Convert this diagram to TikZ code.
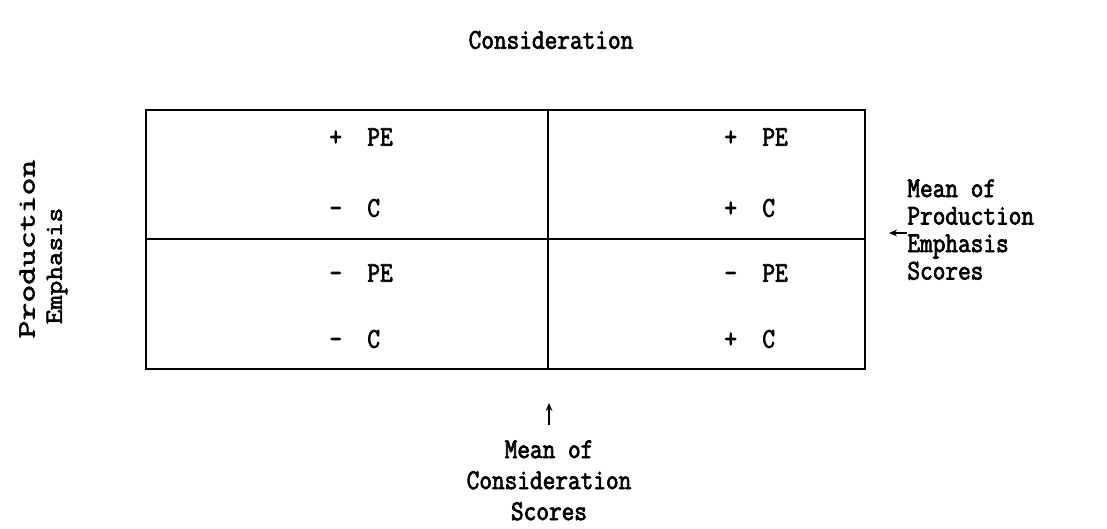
\documentclass[tikz,border=0pt]{standalone}
\usepackage{fontspec}
\setmonofont[FakeStretch=0.86, FakeBold=2.5]{Latin Modern Mono}
\usepackage{tikz}
\usetikzlibrary{positioning,arrows.meta,calc}

\begin{document}
\begin{tikzpicture}[
  x=0.5pt, y=-0.5pt,
  font=\ttfamily\fontsize{14.3}{13.75}\selectfont,
  grid/.style={line width=1.3pt},
  cell/.style={anchor=west, inner sep=0pt},
  lbl/.style={inner sep=0pt, align=left},
  side/.style={inner sep=0pt, rotate=90},
  arr/.style={-{Stealth[length=4pt, width=3.4pt]}, line width=0.8pt}
]
\useasboundingbox (0,0) rectangle (1107,529);
% quadrant frame
\draw[grid] (146,110) rectangle (865,369);
\draw[grid] (146,239) -- (865,239);
\draw[grid] (548,110) -- (548,369);
% quadrant entries
\node[cell] (pe11) at (329,137) {+\ \ PE};
\node[cell] (c11)  at (329,208) {-\ \ C};
\node[cell] (pe12) at (724,137) {+\ \ PE};
\node[cell] (c12)  at (724,208) {+\ \ C};
\node[cell] (pe21) at (329,273) {-\ \ PE};
\node[cell] (c21)  at (329,339) {-\ \ C};
\node[cell] (pe22) at (724,273) {-\ \ PE};
\node[cell] (c22)  at (724,339) {+\ \ C};
% axis titles
\node[lbl] (consid) at (551,40) {Consideration};
\node[side] (prodL) at (27,249)
  {\fontsize{12.3}{14}\addfontfeature{FakeStretch=1.41}Production};
\node[side] (emphL) at (57,266)
  {\fontsize{12.3}{14}\addfontfeature{FakeStretch=1.15}Emphasis};
% means
\node[lbl, anchor=north west] (meanPE) at (907,179) {Mean of\\Production\\Emphasis\\Scores};
\coordinate (peTip) at (889,233);
\draw[arr] (peTip -| meanPE.west) -- (peTip);
\node[lbl, align=center, anchor=north, font=\ttfamily\fontsize{14.3}{15.5}\selectfont]
  (meanC) at (549,440) {Mean of\\Consideration\\Scores};
\coordinate (cTip) at (549,403);
\draw[arr, shorten <=7.5pt] (meanC.north) -- (cTip);
\end{tikzpicture}
\end{document}
